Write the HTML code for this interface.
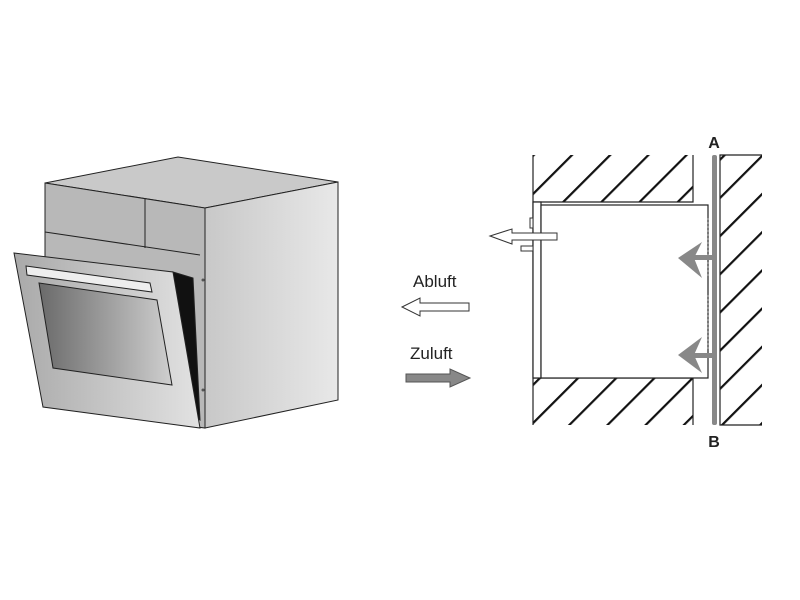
<!DOCTYPE html>
<html><head><style>body{margin:0;background:#fff}svg{display:block}</style></head><body>
<svg width="800" height="600" viewBox="0 0 800 600" xmlns="http://www.w3.org/2000/svg">
<defs>
<linearGradient id="g1" x1="0" x2="1"><stop offset="0" stop-color="#a9a9a9"/><stop offset="1" stop-color="#e2e2e2"/></linearGradient>
<linearGradient id="g2" x1="0" x2="1"><stop offset="0" stop-color="#6a6a6a"/><stop offset="1" stop-color="#cfcfcf"/></linearGradient>
<linearGradient id="g3" x1="0" x2="1"><stop offset="0" stop-color="#c8c8c8"/><stop offset="1" stop-color="#e8e8e8"/></linearGradient>
<pattern id="h" width="27" height="27" patternUnits="userSpaceOnUse" patternTransform="rotate(45)"><rect width="27" height="27" fill="#fff"/><rect x="0" y="0" width="2.2" height="27" fill="#111"/></pattern>
</defs>
<g stroke="#222" stroke-width="1">
<polygon points="45,183 178,157 338,182 205,208" fill="#c9c9c9"/>
<polygon points="205,208 338,182 338,400 205,428" fill="url(#g3)"/>
<polygon points="45,183 205,208 205,428 45,407" fill="#b8b8b8"/>
<line x1="145" y1="199" x2="145" y2="248"/>
<line x1="45" y1="232" x2="200" y2="255"/>
<polygon points="173,272 193,278 200,420 185,410" fill="#111"/>
<polygon points="14,253 173,272 200,428 43,407" fill="url(#g1)"/>
<polygon points="39,283 157,300 172,385 53,368" fill="url(#g2)"/>
<polygon points="26,266 150,283 152,292 27,275" fill="#eee"/>
</g>
<circle cx="203" cy="280" r="1.5" fill="#555"/><circle cx="203" cy="390" r="1.5" fill="#555"/>
<text x="413" y="287" font-family="Liberation Sans,sans-serif" font-size="17" fill="#222">Abluft</text>
<polygon points="402,307 420,298 420,303 469,303 469,311 420,311 420,316" fill="#fff" stroke="#333"/>
<text x="410" y="359" font-family="Liberation Sans,sans-serif" font-size="17" fill="#222">Zuluft</text>
<polygon points="406,374 450,374 450,369 470,378 450,387 450,382 406,382" fill="#888" stroke="#555"/>
<rect x="533" y="155" width="160" height="47" fill="url(#h)"/>
<rect x="533" y="378" width="160" height="47" fill="url(#h)"/>
<rect x="720" y="155" width="42" height="270" fill="url(#h)"/>
<g stroke="#222" stroke-width="1.2" fill="none">
<line x1="533" y1="155" x2="533" y2="425"/>
<polyline points="693,155 693,202 533,202"/>
<polyline points="693,425 693,378 533,378"/>
<polyline points="762,155 720,155 720,425 762,425"/>
<rect x="533" y="202" width="8" height="176" fill="#fff"/>
<rect x="541" y="205" width="167" height="173" fill="#fff"/>
</g>
<rect x="530" y="218" width="3" height="10" fill="#fff" stroke="#333"/>
<rect x="521" y="246" width="12" height="5" fill="#fff" stroke="#333"/>
<polygon points="490,236 512,229 512,233 557,233 557,240 512,240 512,244" fill="#fff" stroke="#333"/>
<line x1="708" y1="218" x2="708" y2="278" stroke="#666" stroke-dasharray="2,2"/>
<line x1="708" y1="295" x2="708" y2="350" stroke="#666" stroke-dasharray="2,2"/>
<g fill="#888">
<rect x="712" y="155" width="5" height="270" rx="2"/>
<rect x="690" y="255" width="27" height="5"/>
<polygon points="678,258 702,242 694,258 702,278"/>
<rect x="690" y="353" width="27" height="5"/>
<polygon points="678,355 702,337 694,355 702,373"/>
</g>
<text x="714" y="148" text-anchor="middle" font-family="Liberation Sans,sans-serif" font-weight="bold" font-size="16" fill="#222">A</text>
<text x="714" y="447" text-anchor="middle" font-family="Liberation Sans,sans-serif" font-weight="bold" font-size="16" fill="#222">B</text>
</svg>
</body></html>
